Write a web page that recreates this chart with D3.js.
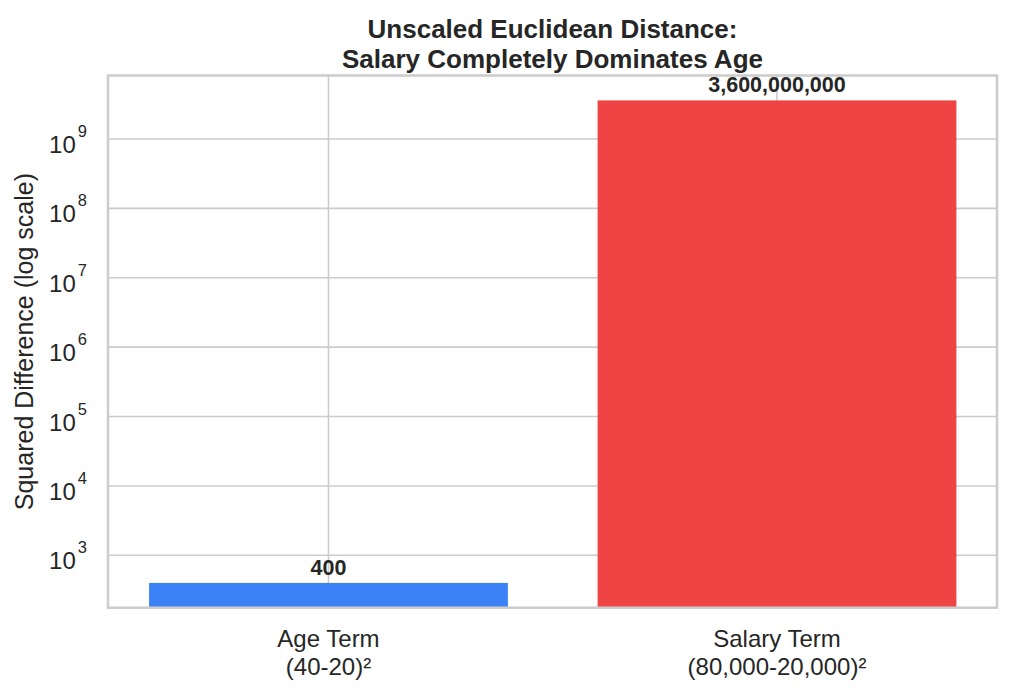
<!DOCTYPE html>
<html><head><meta charset="utf-8">
<script src="https://cdn.jsdelivr.net/npm/d3@7"></script>
<style>body{margin:0;background:#fff;} text{font-family:"Liberation Sans",Arial,sans-serif;fill:#262626;}</style>
</head><body>
<svg id="chart" width="1013" height="695"></svg>
<script>
const categories = ["Age Term\n(40-20)²", "Salary Term\n(80,000-20,000)²"];
const values = [400, 3600000000];
const valueLabels = ["400", "3,600,000,000"];
const colors = ["#3b82f6", "#ef4444"];
const yTickExps = [3,4,5,6,7,8,9];
const titleLines = ["Unscaled Euclidean Distance:", "Salary Completely Dominates Age"];
const yLabel = "Squared Difference (log scale)";

const svg = d3.select("#chart");
const L=108, R=997, T=75.5, B=607.7;
const x = d3.scaleLinear().domain([-0.4916, 1.4905]).range([L, R]);
const y = d3.scaleLog().domain([Math.pow(10,2.245), Math.pow(10,9.915)]).range([B, T]);

// grid
const g = svg.append("g");
g.selectAll(".hg").data(yTickExps).join("line")
  .attr("x1",L).attr("x2",R).attr("y1",d=>y(Math.pow(10,d))).attr("y2",d=>y(Math.pow(10,d)))
  .attr("stroke","#cccccc").attr("stroke-width",1.6);
g.selectAll(".vg").data(categories).join("line")
  .attr("x1",(d,i)=>x(i)).attr("x2",(d,i)=>x(i)).attr("y1",T).attr("y2",B)
  .attr("stroke","#cccccc").attr("stroke-width",1.6);

// bars
const bw = 0.8;
svg.selectAll(".bar").data(values).join("rect")
  .attr("x",(d,i)=>x(i-bw/2)).attr("width",(d,i)=>x(i+bw/2)-x(i-bw/2))
  .attr("y",d=>y(d)).attr("height",d=>B-y(d))
  .attr("fill",(d,i)=>colors[i]);

// value labels
svg.selectAll(".vl").data(values).join("text")
  .attr("x",(d,i)=>x(i)).attr("y",d=>y(d)-8)
  .attr("text-anchor","middle").attr("font-weight","bold").attr("font-size",21.5)
  .text((d,i)=>valueLabels[i]);

// frame
svg.append("rect").attr("x",L).attr("y",T).attr("width",R-L).attr("height",B-T)
  .attr("fill","none").attr("stroke","#cccccc").attr("stroke-width",2.5);

// y tick labels
const yt = svg.selectAll(".yt").data(yTickExps).join("text")
  .attr("x",87).attr("y",d=>y(Math.pow(10,d))+14)
  .attr("text-anchor","end").attr("font-size",24);
yt.append("tspan").text("10");
yt.append("tspan").attr("dx",2).attr("dy",-16).attr("font-size",16.5).text(d=>d);

// x tick labels
categories.forEach((c,i)=>{
  const lines=c.split("\n");
  const t=svg.append("text").attr("x",x(i)).attr("y",647).attr("text-anchor","middle").attr("font-size",24);
  lines.forEach((ln,j)=>t.append("tspan").attr("x",x(i)).attr("dy",j?28:0).text(ln));
});

// y label
svg.append("text").attr("transform",`translate(33,${(T+B)/2}) rotate(-90)`)
  .attr("text-anchor","middle").attr("font-size",25).text(yLabel);

// title
titleLines.forEach((ln,j)=>{
  svg.append("text").attr("x",(L+R)/2).attr("y",38+j*29.5).attr("text-anchor","middle")
    .attr("font-weight","bold").attr("font-size",26).text(ln);
});
</script>
</body></html>
